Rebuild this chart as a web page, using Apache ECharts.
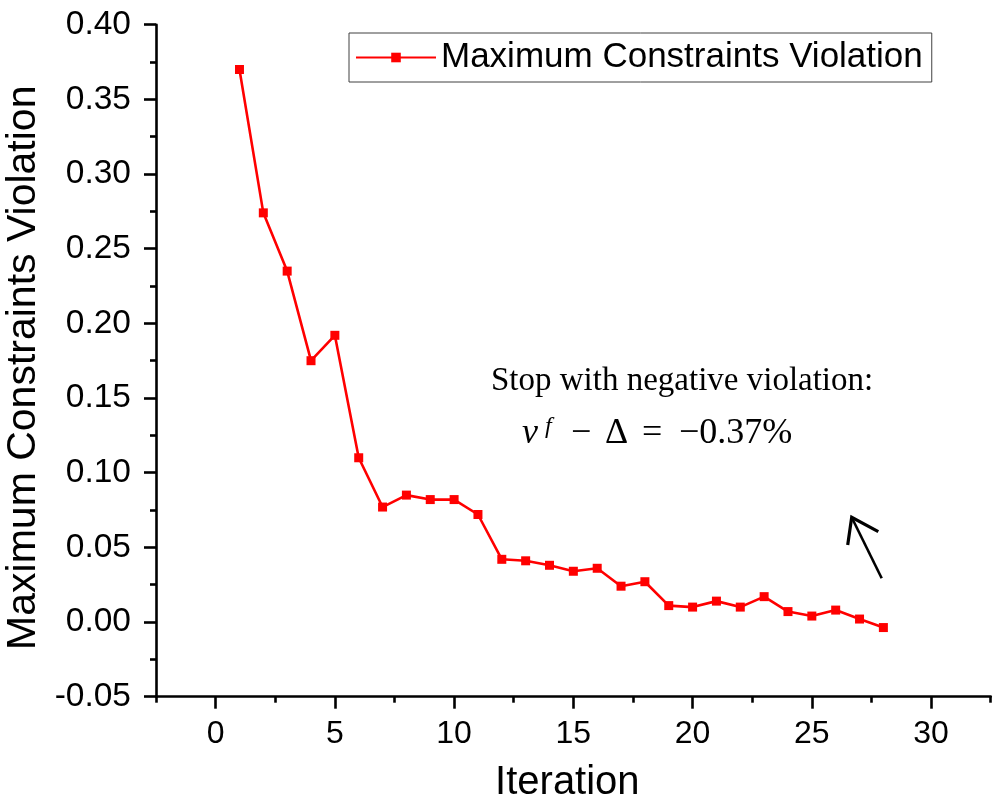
<!DOCTYPE html>
<html>
<head>
<meta charset="utf-8">
<script src="https://cdn.jsdelivr.net/npm/echarts@6/dist/echarts.min.js"></script>
<style>
  html, body { margin: 0; padding: 0; background: #fff; }
  #chart { width: 1007px; height: 810px; }
</style>
</head>
<body>
<div id="chart"></div>
<script>
const iterations = [1, 2, 3, 4, 5, 6, 7, 8, 9, 10, 11, 12, 13, 14, 15, 16, 17, 18, 19, 20, 21, 22, 23, 24, 25, 26, 27, 28];
const violation = [0.370, 0.274, 0.235, 0.175, 0.192, 0.110, 0.077, 0.085, 0.082, 0.082, 0.072, 0.042, 0.041, 0.038,
    0.034, 0.036, 0.024, 0.027, 0.011, 0.010, 0.014, 0.010, 0.017, 0.007, 0.004, 0.008, 0.002, -0.0037];
const xMajorTicks = [0, 5, 10, 15, 20, 25, 30];
const xMinorTicks = [-2.5, 2.5, 7.5, 12.5, 17.5, 22.5, 27.5, 32.5];
const seriesName = 'Maximum Constraints Violation';

const sans = '"Liberation Sans", Arial, sans-serif';
const serif = '"Liberation Serif", "Times New Roman", serif';
const axisColor = '#000';

const chart = echarts.init(document.getElementById('chart'), null, { renderer: 'canvas' });

const mathText = (x, y, text, size, italic) => ({
    type: 'text',
    x: x,
    y: y,
    style: {
        text: text,
        fill: '#000',
        font: (italic ? 'italic ' : '') + size + 'px ' + serif,
        align: 'left',
        verticalAlign: 'middle',
    },
});

chart.setOption({
    backgroundColor: '#fff',
    animation: false,
    grid: { left: 156, right: 16.3, top: 24.7, bottom: 113.3, outerBoundsMode: 'none' },
    legend: {
        left: 349,
        top: 33,
        padding: [7, 9, 7, 6],
        borderColor: '#404040',
        borderWidth: 1,
        itemWidth: 80,
        itemHeight: 12,
        textStyle: { color: '#000', fontSize: 35, fontFamily: sans },
        data: [seriesName],
    },
    xAxis: [
        {
            type: 'value',
            min: -2.5,
            max: 32.5,
            name: 'Iteration',
            nameLocation: 'middle',
            nameGap: 66,
            nameTextStyle: { color: '#000', fontSize: 40, fontFamily: sans, padding: [0, 12, 0, 0] },
            axisLine: { onZero: false, lineStyle: { color: axisColor, width: 2.6 } },
            axisTick: { customValues: xMajorTicks, length: 12, lineStyle: { color: axisColor, width: 2.6 } },
            axisLabel: {
                customValues: xMajorTicks,
                margin: 21,
                color: '#000',
                fontSize: 32,
                fontFamily: sans,
                formatter: (v) => String(v),
            },
            splitLine: { show: false },
        },
        {
            type: 'value',
            min: -2.5,
            max: 32.5,
            position: 'bottom',
            axisLine: { show: false, onZero: false },
            axisTick: { customValues: xMinorTicks, length: 6, lineStyle: { color: axisColor, width: 2.6 } },
            axisLabel: { show: false },
            splitLine: { show: false },
        },
    ],
    yAxis: {
        type: 'value',
        min: -0.05,
        max: 0.40,
        interval: 0.05,
        name: seriesName,
        nameLocation: 'middle',
        nameGap: 109,
        nameTextStyle: { color: '#000', fontSize: 41, fontFamily: sans, padding: [0, 14, 0, 0] },
        axisLine: { show: true, onZero: false, lineStyle: { color: axisColor, width: 2.6 } },
        axisTick: { show: true, length: 12, lineStyle: { color: axisColor, width: 2.6 } },
        minorTick: { show: true, splitNumber: 2, length: 6, lineStyle: { color: axisColor, width: 2.6 } },
        axisLabel: {
            margin: 25,
            color: '#000',
            fontSize: 33.5,
            fontFamily: sans,
            formatter: (v) => v.toFixed(2),
        },
        splitLine: { show: false },
        minorSplitLine: { show: false },
    },
    series: [
        {
            name: seriesName,
            type: 'line',
            xAxisIndex: 0,
            data: iterations.map((it, i) => [it, violation[i]]),
            symbol: 'rect',
            symbolSize: 9,
            color: '#ff0000',
            itemStyle: { color: '#ff0000' },
            lineStyle: { color: '#ff0000', width: 2.6 },
        },
    ],
    graphic: [
        {
            type: 'text',
            x: 491,
            y: 381,
            style: {
                text: 'Stop with negative violation:',
                fill: '#000',
                font: '33px ' + serif,
                align: 'left',
                verticalAlign: 'middle',
            },
        },
        mathText(522, 434, 'ν', 36, true),
        mathText(545, 427, 'f', 24, true),
        mathText(571, 434, '−', 36, false),
        mathText(605, 434, 'Δ', 36, false),
        mathText(642, 434, '=', 36, false),
        mathText(679, 434, '−0.37%', 36, false),
        {
            type: 'polyline',
            shape: { points: [[881.7, 578.3], [852.5, 519]] },
            style: { stroke: '#000', lineWidth: 2.6, fill: null },
        },
        {
            type: 'polyline',
            shape: { points: [[847.7, 545], [851.7, 517.3], [878.3, 531.7]] },
            style: { stroke: '#000', lineWidth: 3.2, fill: null, lineJoin: 'miter' },
        },
    ],
});
</script>
</body>
</html>
